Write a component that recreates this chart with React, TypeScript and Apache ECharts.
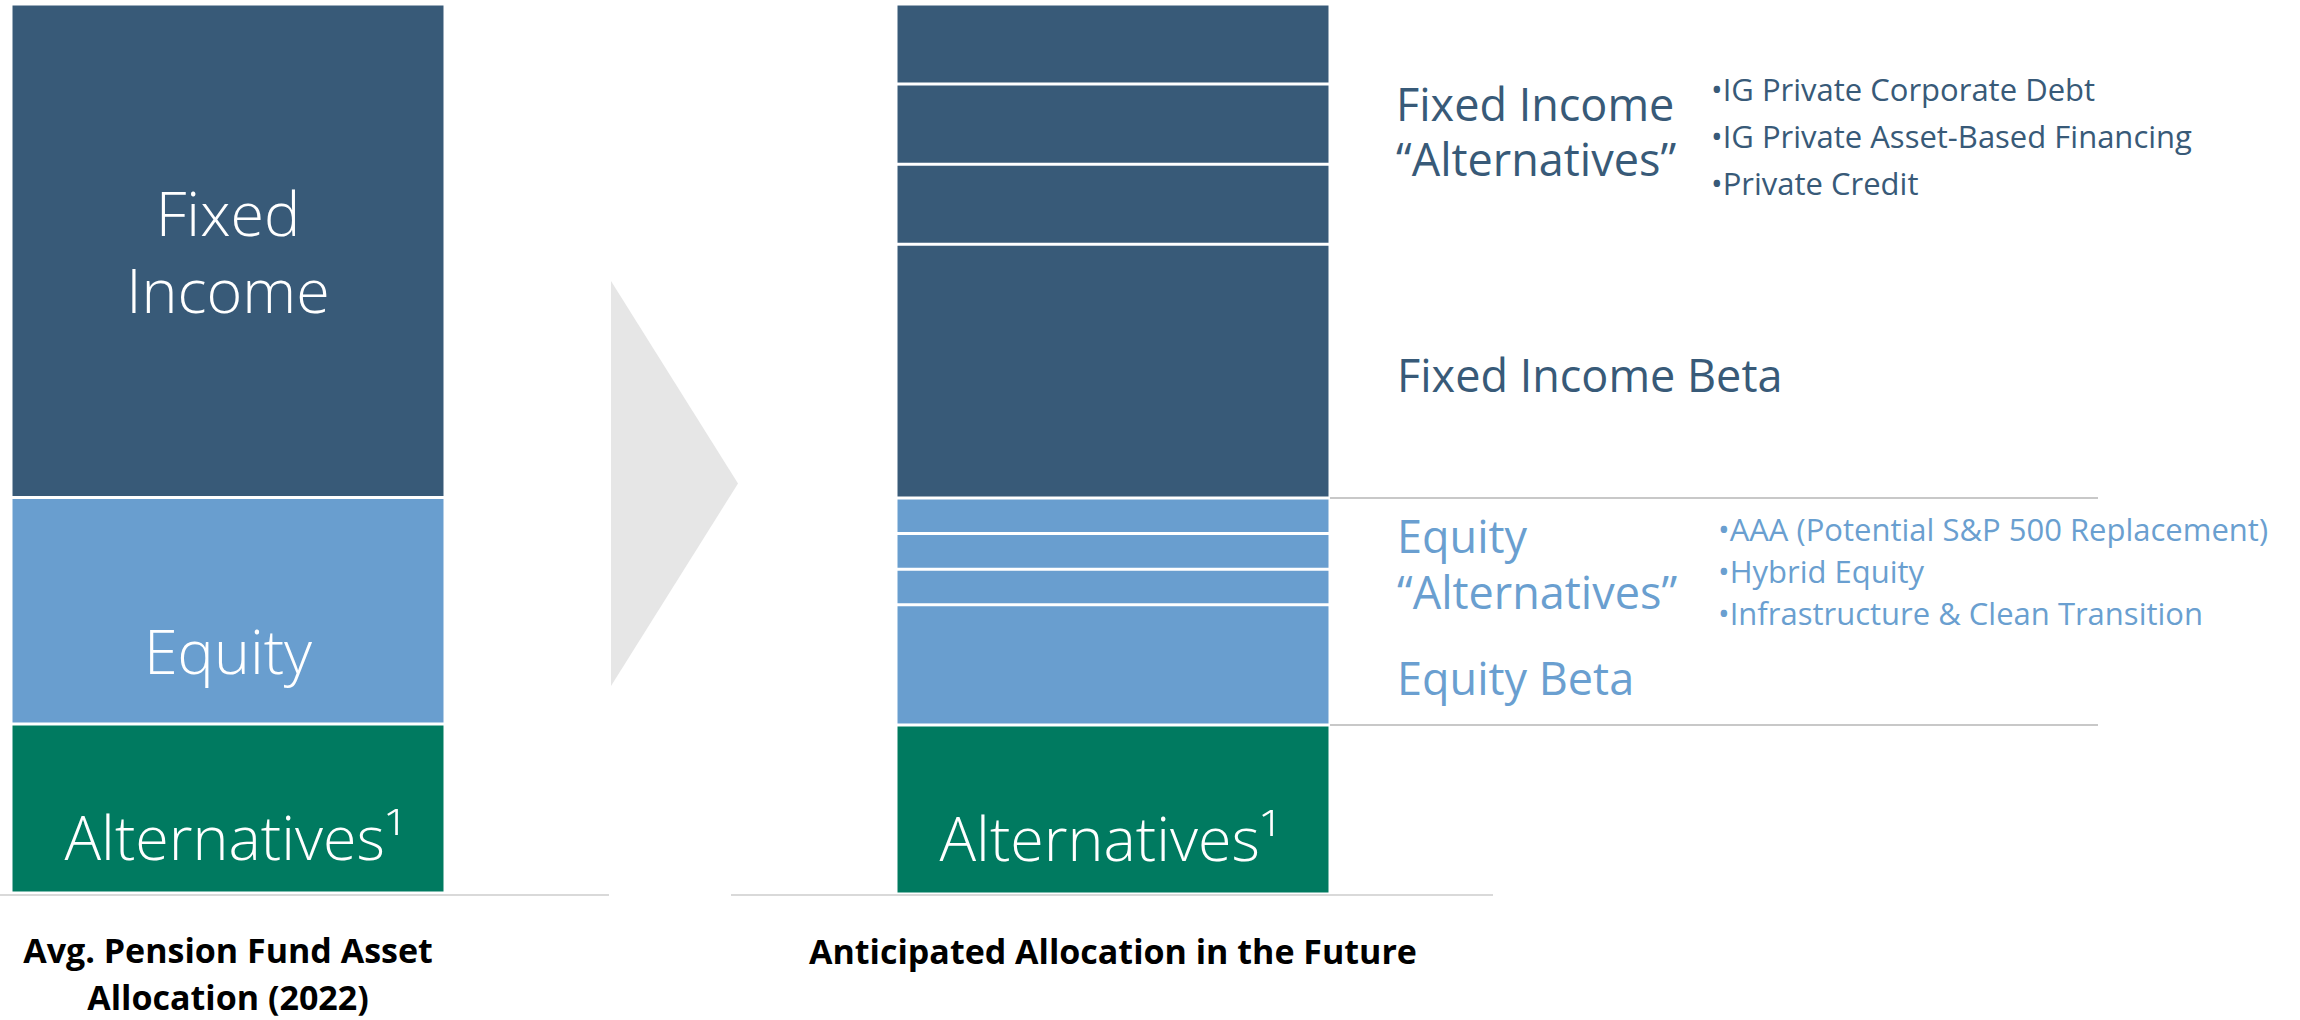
import React, { useEffect, useRef } from 'react';
import * as echarts from 'echarts';

// ---------- data ----------
const currentCategory = ['Avg. Pension Fund Asset\nAllocation (2022)'];
const futureCategory = ['Anticipated Allocation in the Future'];

const currentAlternatives = [19];
const currentEquity = [25.5];
const currentFixedIncome = [55.5];

const futureAlternatives = [19];
const futureEquityBeta = [13.5];
const futureEquityAlternatives = [4, 4, 4];
const futureFixedIncomeBeta = [28.5];
const futureFixedIncomeAlternatives = [9, 9, 9];

const fixedIncomeAltBullets = ['IG Private Corporate Debt', 'IG Private Asset-Based Financing', 'Private Credit'];
const equityAltBullets = ['AAA (Potential S&P 500 Replacement)', 'Hybrid Equity', 'Infrastructure & Clean Transition'];

// ---------- style ----------
const DARK = '#385a78';
const LIGHT = '#699ecf';
const GREEN = '#007a60';
const LIGHT_TEXT = '#6a9fd0';
const FONT = '"Open Sans", "DejaVu Sans", sans-serif';

const GRID_TOP = 4;
const GRID_H = 890;
const LEFT_X = 11;
const RIGHT_X = 896;
const BAR_W = 434;

function seg(name: string, value: number, color: string, g: number, label?: any) {
  return {
    type: 'bar',
    name,
    xAxisIndex: g,
    yAxisIndex: g,
    stack: 'bar' + g,
    barWidth: '100%',
    data: [value],
    itemStyle: { color, borderColor: '#ffffff', borderWidth: 1.5 },
    label: label
      ? {
          show: true,
          position: 'inside',
          color: '#ffffff',
          fontFamily: FONT,
          fontWeight: 300,
          fontSize: 61,
          lineHeight: 77,
          ...label,
        }
      : { show: false },
    emphasis: { disabled: true },
  };
}

export default function App() {
  const ref = useRef<HTMLDivElement>(null);

  useEffect(() => {
    if (!ref.current) return;
    const chart = echarts.init(ref.current, undefined, { renderer: 'svg' });

    const axisLabel = {
      interval: 0,
      color: '#000000',
      fontFamily: FONT,
      fontWeight: 700,
      fontSize: 34,
      lineHeight: 47,
      margin: 33,
    };

    const series: any[] = [
      seg('Alternatives', currentAlternatives[0], GREEN, 0, { formatter: 'Alternatives¹', offset: [7, 28] }),
      seg('Equity', currentEquity[0], LIGHT, 0, { formatter: 'Equity', offset: [0, 40] }),
      seg('Fixed Income', currentFixedIncome[0], DARK, 0, { formatter: 'Fixed\nIncome', offset: [0, 0] }),
      seg('Alternatives (future)', futureAlternatives[0], GREEN, 1, { formatter: 'Alternatives¹', offset: [-3, 28] }),
      seg('Equity Beta', futureEquityBeta[0], LIGHT, 1),
      ...futureEquityAlternatives.map((v, i) => seg('Equity Alternatives ' + (i + 1), v, LIGHT, 1)),
      seg('Fixed Income Beta', futureFixedIncomeBeta[0], DARK, 1),
      ...futureFixedIncomeAlternatives.map((v, i) => seg('Fixed Income Alternatives ' + (i + 1), v, DARK, 1)),
    ];

    chart.setOption({
      animation: false,
      backgroundColor: '#ffffff',
      textStyle: { fontFamily: FONT },
      grid: [
        { left: LEFT_X, top: GRID_TOP, width: BAR_W, height: GRID_H },
        { left: RIGHT_X, top: GRID_TOP, width: BAR_W, height: GRID_H },
      ],
      xAxis: [
        {
          type: 'category',
          gridIndex: 0,
          data: currentCategory,
          axisLine: { show: false },
          axisTick: { show: false },
          axisLabel,
        },
        {
          type: 'category',
          gridIndex: 1,
          data: futureCategory,
          axisLine: { show: false },
          axisTick: { show: false },
          axisLabel,
        },
      ],
      yAxis: [
        { type: 'value', gridIndex: 0, min: 0, max: 100, show: false },
        { type: 'value', gridIndex: 1, min: 0, max: 100, show: false },
      ],
      series,
    });

    // positions derived from the value scale
    const eqAltSum = futureEquityAlternatives.reduce((a, b) => a + b, 0);
    const yBase = chart.convertToPixel({ yAxisIndex: 1 }, 0) as number;
    const yAlt = chart.convertToPixel({ yAxisIndex: 1 }, futureAlternatives[0]) as number;
    const yEqTop = chart.convertToPixel(
      { yAxisIndex: 1 },
      futureAlternatives[0] + futureEquityBeta[0] + eqAltSum
    ) as number;
    const barRight = RIGHT_X + BAR_W;

    const text = (t: string, x: number, y: number, size: number, fill: string, lh?: number) => ({
      type: 'text',
      x,
      y,
      silent: true,
      style: {
        text: t,
        fill,
        fontFamily: FONT,
        fontSize: size,
        fontWeight: 400,
        align: 'left',
        verticalAlign: 'middle',
        lineHeight: lh || size * 1.25,
      },
    });

    const fiBulletY = [89, 136, 183];
    const eqBulletY = [529, 571, 613];

    chart.setOption({
      graphic: [
        // arrow
        {
          type: 'polygon',
          silent: true,
          shape: { points: [[611, 281], [738, 483.5], [611, 686]] },
          style: { fill: '#e6e6e6' },
        },
        // baselines
        {
          type: 'line',
          silent: true,
          shape: { x1: 0, y1: yBase + 1, x2: 609, y2: yBase + 1 },
          style: { stroke: '#d9d9d9', lineWidth: 2 },
        },
        {
          type: 'line',
          silent: true,
          shape: { x1: 731, y1: yBase + 1, x2: 1493, y2: yBase + 1 },
          style: { stroke: '#d9d9d9', lineWidth: 2 },
        },
        // separators
        {
          type: 'line',
          silent: true,
          shape: { x1: barRight, y1: yEqTop, x2: 2098, y2: yEqTop },
          style: { stroke: '#c8c8c8', lineWidth: 2 },
        },
        {
          type: 'line',
          silent: true,
          shape: { x1: barRight, y1: yAlt, x2: 2098, y2: yAlt },
          style: { stroke: '#c8c8c8', lineWidth: 2 },
        },
        // right-hand labels
        text('Fixed Income\n\u201CAlternatives\u201D', 1396, 130.5, 45, DARK, 55),
        ...fixedIncomeAltBullets.map((b, i) => text('\u2022' + b, 1711, fiBulletY[i], 31, DARK)),
        text('Fixed Income Beta', 1397, 374, 45, DARK),
        text('Equity\n\u201CAlternatives\u201D', 1397, 563, 45, LIGHT_TEXT, 56),
        ...equityAltBullets.map((b, i) => text('\u2022' + b, 1718, eqBulletY[i], 31, LIGHT_TEXT)),
        text('Equity Beta', 1397, 677, 45, LIGHT_TEXT),
      ],
    });

    return () => chart.dispose();
  }, []);

  return (
    <div
      ref={ref}
      style={{ position: 'fixed', left: 0, top: 0, width: 2300, height: 1020, background: '#ffffff' }}
    />
  );
}
